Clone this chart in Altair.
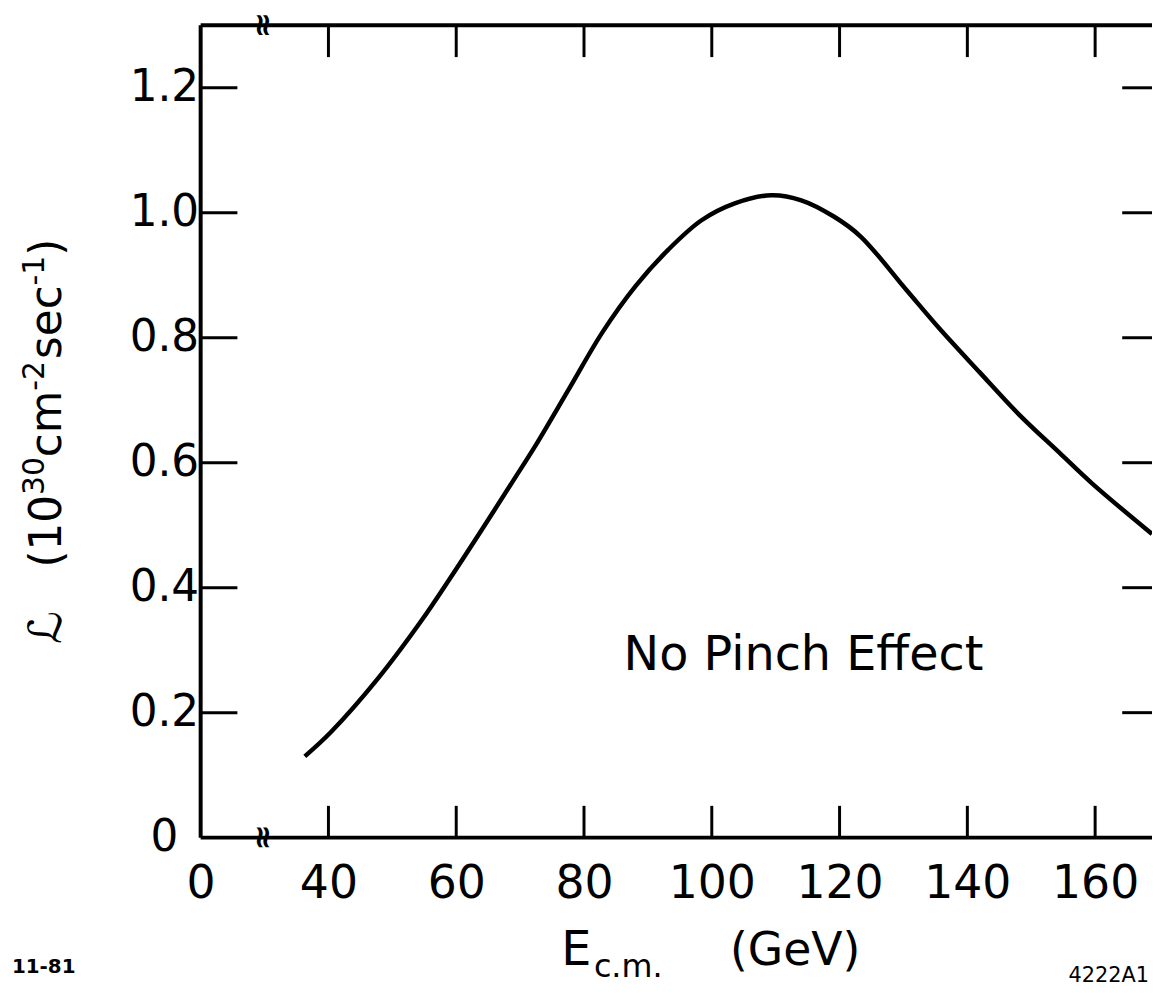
import altair as alt
import pandas as pd

# Curve: E_cm (GeV) vs luminosity (10^30 cm^-2 s^-1)
energy = [36.3, 40.4, 47.7, 54.4, 59.1, 63.7, 68.9, 72.5, 77.7, 82.9, 88.1, 93.2,
          98.4, 103.6, 109.3, 114.0, 119.1, 123.3, 130.5, 135.7, 141.9, 148.1,
          154.4, 159.5, 168.9]
lumi = [0.130, 0.169, 0.254, 0.345, 0.416, 0.488, 0.571, 0.629, 0.719, 0.809,
        0.883, 0.941, 0.988, 1.015, 1.028, 1.020, 0.994, 0.962, 0.876, 0.814,
        0.745, 0.677, 0.616, 0.567, 0.486]

x_ticks = [40, 60, 80, 100, 120, 140, 160]
x_labels_at = [20, 40, 60, 80, 100, 120, 140, 160]
y_ticks = [0.2, 0.4, 0.6, 0.8, 1.0, 1.2]
y_labels_at = [0, 0.2, 0.4, 0.6, 0.8, 1.0, 1.2]

W, H = 958, 818
FONT = "DejaVu Sans"

xs = alt.Scale(domain=[20, 168.9], nice=False, zero=False)
ys = alt.Scale(domain=[0, 1.3], nice=False)

curve_df = pd.DataFrame({"E": energy, "L": lumi})
xt_df = pd.DataFrame({"E": x_ticks})
yt_df = pd.DataFrame({"L": y_ticks})

x_axis = alt.Axis(values=x_labels_at, labelExpr="datum.value == 20 ? '0' : datum.label",
                  domain=False, ticks=False, tickSize=0, grid=False, title=None,
                  labelFont=FONT, labelFontSize=46, labelColor="black",
                  labelPadding=24, labelFlush=False, labelOverlap=False)
y_axis = alt.Axis(values=y_labels_at,
                  labelExpr="datum.value == 0 ? '0' : format(datum.value, '.1f')",
                  domain=False, ticks=False, tickSize=0, grid=False, title=None,
                  labelFont=FONT, labelFontSize=44, labelColor="black",
                  labelPadding=37, labelAlign="center", labelBaseline="middle",
                  labelFlush=False, labelOverlap=False)

line = alt.Chart(curve_df).mark_line(color="black", strokeWidth=4.5, interpolate="catmull-rom").encode(
    x=alt.X("E:Q", scale=xs, axis=x_axis),
    y=alt.Y("L:Q", scale=ys, axis=y_axis),
)

tick_w = 3
top_ticks = alt.Chart(xt_df).mark_rule(color="black", strokeWidth=tick_w).encode(
    x=alt.X("E:Q", scale=xs), y=alt.value(0), y2=alt.value(32))
bot_ticks = alt.Chart(xt_df).mark_rule(color="black", strokeWidth=tick_w).encode(
    x=alt.X("E:Q", scale=xs), y=alt.value(H - 32), y2=alt.value(H))
left_ticks = alt.Chart(yt_df).mark_rule(color="black", strokeWidth=tick_w).encode(
    y=alt.Y("L:Q", scale=ys), x=alt.value(0), x2=alt.value(37))
right_ticks = alt.Chart(yt_df).mark_rule(color="black", strokeWidth=tick_w).encode(
    y=alt.Y("L:Q", scale=ys), x=alt.value(W - 30), x2=alt.value(W))

one = pd.DataFrame({"t": [""]})
frame_top = alt.Chart(one).mark_rule(color="black", strokeWidth=4).encode(
    x=alt.value(0), x2=alt.value(W), y=alt.value(0))
frame_bot = alt.Chart(one).mark_rule(color="black", strokeWidth=4).encode(
    x=alt.value(0), x2=alt.value(W), y=alt.value(H))
frame_left = alt.Chart(one).mark_rule(color="black", strokeWidth=4).encode(
    x=alt.value(0), y=alt.value(0), y2=alt.value(H))


def label(text, x, y, size, align="left", baseline="alphabetic", angle=0, weight="normal"):
    kw = dict(align=align, baseline=baseline, fontSize=size, font=FONT,
              color="black", fontWeight=weight)
    if angle:
        kw["angle"] = angle
    return alt.Chart(pd.DataFrame({"t": [text]})).mark_text(**kw).encode(
        text="t:N", x=alt.value(x), y=alt.value(y))


# y-axis title pieces, rotated (reading bottom to top); x = baseline, y = start
BX = -141   # baseline of main title text (plot coords)
SX = -158   # baseline of superscripts
ytitle = [
    label("ℒ", BX, 623, 46, angle=270),
    label("(10", BX, 546, 44, angle=270),
    label("30", SX, 473, 30, angle=270),
    label("cm", BX, 435, 44, angle=270),
    label("-2", SX, 368, 30, angle=270),
    label("sec", BX, 336, 44, angle=270),
    label("-1", SX, 262, 30, angle=270),
    label(")", BX, 232, 44, angle=270),
]

texts = [
    label("≈", 63, 0, 32, align="center", baseline="middle", angle=90, weight="bold"),
    label("≈", 63, H, 32, align="center", baseline="middle", angle=90, weight="bold"),
    label("No Pinch Effect", 607, 635, 48, align="center", baseline="middle"),
    label("E", 363, 946, 48),
    label("c.m.", 396, 958, 32),
    label("(GeV)", 533, 946, 46),
    label("11-81", -190, 954, 20, weight="bold"),
    label("4222A1", W - 3, 963, 21, align="right"),
]

chart = alt.layer(
    line, top_ticks, bot_ticks, left_ticks, right_ticks,
    frame_top, frame_bot, frame_left, *ytitle, *texts
).properties(
    width=W, height=H,
    autosize=alt.AutoSizeParams(type="none"),
    padding={"left": 194, "top": 14, "right": 0, "bottom": 150},
).configure_view(stroke=None).configure(background="white")

chart.save("out.html", embed_options={"renderer": "svg", "actions": False})
